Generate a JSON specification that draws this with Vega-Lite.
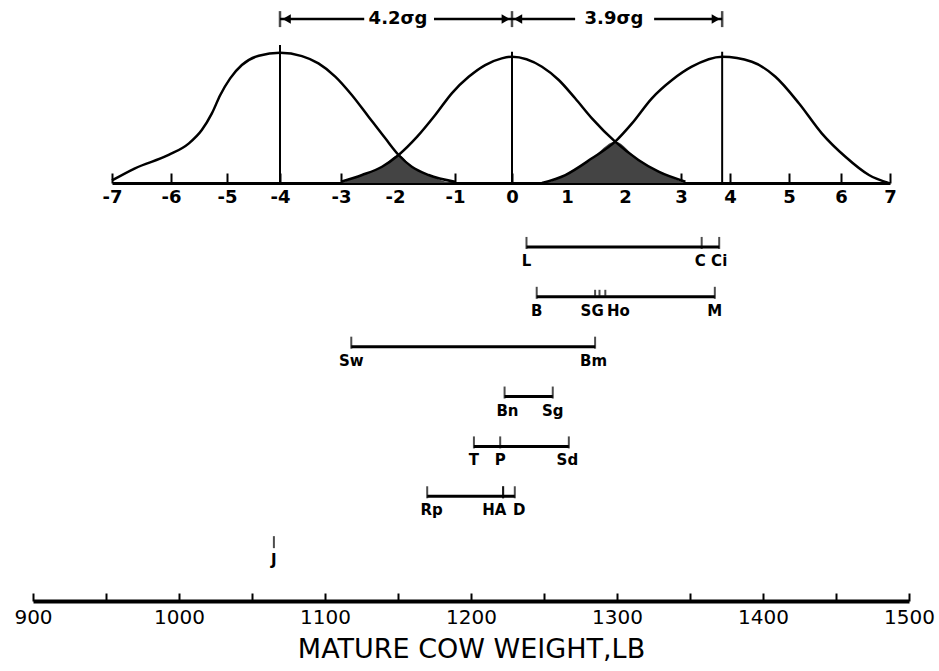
{
  "$schema": "https://vega.github.io/schema/vega-lite/v6.json",
  "background": "white",
  "padding": {"left": 13, "top": 9, "right": 5, "bottom": 5},
  "spacing": 16,
  "config": {"view": {"stroke": null}, "font": "DejaVu Sans"},
  "datasets": {
    "curves": [
      {"curve": "low", "sigma": -7.0, "height": 0.02},
      {"curve": "low", "sigma": -6.61, "height": 0.115},
      {"curve": "low", "sigma": -6.04, "height": 0.219},
      {"curve": "low", "sigma": -5.68, "height": 0.31},
      {"curve": "low", "sigma": -5.45, "height": 0.414},
      {"curve": "low", "sigma": -5.27, "height": 0.544},
      {"curve": "low", "sigma": -5.12, "height": 0.688},
      {"curve": "low", "sigma": -4.94, "height": 0.818},
      {"curve": "low", "sigma": -4.72, "height": 0.922},
      {"curve": "low", "sigma": -4.4, "height": 0.995},
      {"curve": "low", "sigma": -4.0, "height": 1.018},
      {"curve": "low", "sigma": -3.64, "height": 0.992},
      {"curve": "low", "sigma": -3.37, "height": 0.935},
      {"curve": "low", "sigma": -3.09, "height": 0.83},
      {"curve": "low", "sigma": -2.8, "height": 0.688},
      {"curve": "low", "sigma": -2.49, "height": 0.518},
      {"curve": "low", "sigma": -2.18, "height": 0.349},
      {"curve": "low", "sigma": -1.94, "height": 0.219},
      {"curve": "low", "sigma": -1.72, "height": 0.127},
      {"curve": "low", "sigma": -1.44, "height": 0.0625},
      {"curve": "low", "sigma": -1.0, "height": 0.01},
      {"curve": "mid", "sigma": -3.0, "height": 0.01},
      {"curve": "mid", "sigma": -2.61, "height": 0.0625},
      {"curve": "mid", "sigma": -2.24, "height": 0.127},
      {"curve": "mid", "sigma": -1.94, "height": 0.219},
      {"curve": "mid", "sigma": -1.63, "height": 0.362},
      {"curve": "mid", "sigma": -1.33, "height": 0.531},
      {"curve": "mid", "sigma": -1.05, "height": 0.703},
      {"curve": "mid", "sigma": -0.76, "height": 0.83},
      {"curve": "mid", "sigma": -0.47, "height": 0.922},
      {"curve": "mid", "sigma": -0.18, "height": 0.974},
      {"curve": "mid", "sigma": 0.0, "height": 0.987},
      {"curve": "mid", "sigma": 0.545, "height": 0.909},
      {"curve": "mid", "sigma": 0.85, "height": 0.805},
      {"curve": "mid", "sigma": 1.14, "height": 0.662},
      {"curve": "mid", "sigma": 1.43, "height": 0.505},
      {"curve": "mid", "sigma": 1.83, "height": 0.323},
      {"curve": "mid", "sigma": 2.24, "height": 0.18},
      {"curve": "mid", "sigma": 2.6, "height": 0.088},
      {"curve": "mid", "sigma": 3.09, "height": 0.01},
      {"curve": "high", "sigma": 0.545, "height": 0.0},
      {"curve": "high", "sigma": 0.97, "height": 0.0625},
      {"curve": "high", "sigma": 1.43, "height": 0.193},
      {"curve": "high", "sigma": 1.83, "height": 0.323},
      {"curve": "high", "sigma": 2.125, "height": 0.466},
      {"curve": "high", "sigma": 2.48, "height": 0.662},
      {"curve": "high", "sigma": 2.84, "height": 0.805},
      {"curve": "high", "sigma": 3.22, "height": 0.909},
      {"curve": "high", "sigma": 3.84, "height": 0.987},
      {"curve": "high", "sigma": 4.37, "height": 0.948},
      {"curve": "high", "sigma": 4.77, "height": 0.83},
      {"curve": "high", "sigma": 5.19, "height": 0.623},
      {"curve": "high", "sigma": 5.63, "height": 0.388},
      {"curve": "high", "sigma": 6.09, "height": 0.205},
      {"curve": "high", "sigma": 6.57, "height": 0.0625},
      {"curve": "high", "sigma": 6.97, "height": 0.0}
    ],
    "overlap": [
      {"zone": "left", "sigma": -3.0, "height": 0.0},
      {"zone": "left", "sigma": -2.61, "height": 0.0625},
      {"zone": "left", "sigma": -2.24, "height": 0.127},
      {"zone": "left", "sigma": -1.94, "height": 0.219},
      {"zone": "left", "sigma": -1.72, "height": 0.127},
      {"zone": "left", "sigma": -1.44, "height": 0.0625},
      {"zone": "left", "sigma": -1.0, "height": 0.0},
      {"zone": "right", "sigma": 0.545, "height": 0.0},
      {"zone": "right", "sigma": 0.97, "height": 0.0625},
      {"zone": "right", "sigma": 1.43, "height": 0.193},
      {"zone": "right", "sigma": 1.83, "height": 0.323},
      {"zone": "right", "sigma": 2.24, "height": 0.18},
      {"zone": "right", "sigma": 2.6, "height": 0.088},
      {"zone": "right", "sigma": 3.09, "height": 0.0}
    ],
    "peaks": [
      {"sigma": -4.0, "height": 1.078},
      {"sigma": 0.0, "height": 1.026},
      {"sigma": 3.84, "height": 1.026}
    ],
    "arrowLines": [
      {"sigma": -4.0, "sigma2": -2.57},
      {"sigma": -1.35, "sigma2": 0.0},
      {"sigma": 0.0, "sigma2": 1.14},
      {"sigma": 2.52, "sigma2": 3.84}
    ],
    "arrowHeads": [
      {"sigma": -3.89, "dir": "left"},
      {"sigma": -0.11, "dir": "right"},
      {"sigma": 0.11, "dir": "left"},
      {"sigma": 3.71, "dir": "right"}
    ],
    "arrowEnds": [
      {"sigma": -4.0},
      {"sigma": 0.0},
      {"sigma": 3.84}
    ],
    "arrowText": [
      {"sigma": -1.95, "text": "4.2σg"},
      {"sigma": 1.81, "text": "3.9σg"}
    ],
    "ranges": [
      {"row": 1, "low": 1238, "high": 1370},
      {"row": 2, "low": 1245, "high": 1367},
      {"row": 3, "low": 1118, "high": 1285},
      {"row": 4, "low": 1223, "high": 1256},
      {"row": 5, "low": 1202, "high": 1267},
      {"row": 6, "low": 1170, "high": 1230}
    ],
    "breeds": [
      {"row": 1, "breed": "L", "weight": 1238, "kind": "end"},
      {"row": 1, "breed": "C", "weight": 1358, "kind": "end"},
      {"row": 1, "breed": "Ci", "weight": 1370, "kind": "end"},
      {"row": 2, "breed": "B", "weight": 1245, "kind": "end"},
      {"row": 2, "breed": "S", "weight": 1285, "kind": "minor"},
      {"row": 2, "breed": "G", "weight": 1288, "kind": "minor"},
      {"row": 2, "breed": "Ho", "weight": 1292, "kind": "minor"},
      {"row": 2, "breed": "M", "weight": 1367, "kind": "end"},
      {"row": 3, "breed": "Sw", "weight": 1118, "kind": "end"},
      {"row": 3, "breed": "Bm", "weight": 1285, "kind": "end"},
      {"row": 4, "breed": "Bn", "weight": 1223, "kind": "end"},
      {"row": 4, "breed": "Sg", "weight": 1256, "kind": "end"},
      {"row": 5, "breed": "T", "weight": 1202, "kind": "end"},
      {"row": 5, "breed": "P", "weight": 1220, "kind": "end"},
      {"row": 5, "breed": "Sd", "weight": 1267, "kind": "end"},
      {"row": 6, "breed": "Rp", "weight": 1170, "kind": "end"},
      {"row": 6, "breed": "H", "weight": 1222, "kind": "end"},
      {"row": 6, "breed": "A", "weight": 1222, "kind": "end"},
      {"row": 6, "breed": "D", "weight": 1230, "kind": "end"},
      {"row": 7, "breed": "J", "weight": 1065, "kind": "end"}
    ],
    "labels": [
      {"row": 1, "text": "L", "weight": 1238},
      {"row": 1, "text": "C", "weight": 1357},
      {"row": 1, "text": "Ci", "weight": 1370},
      {"row": 2, "text": "B", "weight": 1245},
      {"row": 2, "text": "SG", "weight": 1283},
      {"row": 2, "text": "Ho", "weight": 1301},
      {"row": 2, "text": "M", "weight": 1367},
      {"row": 3, "text": "Sw", "weight": 1118},
      {"row": 3, "text": "Bm", "weight": 1284},
      {"row": 4, "text": "Bn", "weight": 1225},
      {"row": 4, "text": "Sg", "weight": 1256},
      {"row": 5, "text": "T", "weight": 1202},
      {"row": 5, "text": "P", "weight": 1220},
      {"row": 5, "text": "Sd", "weight": 1266},
      {"row": 6, "text": "Rp", "weight": 1173},
      {"row": 6, "text": "HA", "weight": 1216},
      {"row": 6, "text": "D", "weight": 1233},
      {"row": 7, "text": "J", "weight": 1065}
    ]
  },
  "vconcat": [
    {
      "width": 876,
      "height": 174,
      "encoding": {
        "x": {
          "field": "sigma",
          "type": "quantitative",
          "scale": {
            "domain": [-7, -6, -5, -4, -3, -2, -1, 0, 1, 2, 3, 4, 5, 6, 7],
            "range": [79, 138, 194, 247, 308, 362, 422, 479, 534, 592, 648, 697, 756, 808, 857],
            "nice": false,
            "zero": false
          },
          "axis": {
            "values": [-7, -6, -5, -4, -3, -2, -1, 0, 1, 2, 3, 4, 5, 6, 7],
            "labelExpr": "datum.value < 0 ? '-' + abs(datum.value) : '' + datum.value",
            "title": null,
            "grid": false,
            "labelFlush": false,
            "labelOverlap": false,
            "tickSize": -10,
            "tickWidth": 2,
            "tickColor": "black",
            "domainColor": "black",
            "domainWidth": 3,
            "labelFontSize": 18,
            "labelFontWeight": "bold",
            "labelColor": "black",
            "labelPadding": 15
          }
        }
      },
      "layer": [
        {
          "data": {"name": "overlap"},
          "mark": {"type": "area", "color": "#444444", "interpolate": "monotone"},
          "encoding": {
            "y": {"field": "height", "type": "quantitative", "scale": {"domain": [0, 1.36], "nice": false, "zero": false}, "axis": null},
            "detail": {"field": "zone", "type": "nominal"}
          }
        },
        {
          "data": {"name": "curves"},
          "mark": {"type": "line", "color": "black", "strokeWidth": 2.5, "interpolate": "monotone"},
          "encoding": {
            "y": {"field": "height", "type": "quantitative", "scale": {"domain": [0, 1.36], "nice": false, "zero": false}, "axis": null},
            "detail": {"field": "curve", "type": "nominal"}
          }
        },
        {
          "data": {"name": "peaks"},
          "mark": {"type": "rule", "color": "black", "strokeWidth": 2},
          "encoding": {
            "y": {"field": "height", "type": "quantitative", "scale": {"domain": [0, 1.36], "nice": false, "zero": false}, "axis": null},
            "y2": {"datum": 0}
          }
        },
        {
          "data": {"name": "arrowLines"},
          "mark": {"type": "rule", "color": "black", "strokeWidth": 2.5},
          "encoding": {
            "x2": {"field": "sigma2"},
            "y": {"datum": 1.281, "type": "quantitative", "axis": null}
          }
        },
        {
          "data": {"name": "arrowEnds"},
          "mark": {"type": "tick", "orient": "vertical", "color": "black", "thickness": 2.5, "size": 16},
          "encoding": {"y": {"datum": 1.281, "type": "quantitative", "axis": null}}
        },
        {
          "data": {"name": "arrowHeads"},
          "mark": {"type": "point", "filled": true, "color": "black", "opacity": 1, "size": 90},
          "encoding": {
            "y": {"datum": 1.281, "type": "quantitative", "axis": null},
            "shape": {
              "field": "dir",
              "type": "nominal",
              "scale": {"domain": ["left", "right"], "range": ["triangle-left", "triangle-right"]},
              "legend": null
            }
          }
        },
        {
          "data": {"name": "arrowText"},
          "mark": {"type": "text", "color": "black", "fontSize": 18, "fontWeight": "bold", "baseline": "middle", "align": "center"},
          "encoding": {
            "y": {"datum": 1.281, "type": "quantitative", "axis": null},
            "text": {"field": "text", "type": "nominal"}
          }
        }
      ]
    },
    {
      "width": 876,
      "height": 379,
      "encoding": {
        "x": {
          "field": "weight",
          "type": "quantitative",
          "scale": {"domain": [900, 1500], "nice": false, "zero": false},
          "axis": {
            "values": [900, 950, 1000, 1050, 1100, 1150, 1200, 1250, 1300, 1350, 1400, 1450, 1500],
            "format": "d",
            "labelExpr": "datum.value % 100 === 0 ? datum.label : ''",
            "title": "MATURE COW WEIGHT,LB",
            "titleFontSize": 27,
            "titleFontWeight": "normal",
            "titleColor": "black",
            "titlePadding": 9,
            "grid": false,
            "labelFlush": false,
            "labelOverlap": false,
            "tickSize": -8,
            "tickWidth": 2,
            "tickColor": "black",
            "domainColor": "black",
            "domainWidth": 4,
            "labelFontSize": 20,
            "labelColor": "black",
            "labelPadding": 14
          }
        },
        "y": {
          "field": "row",
          "type": "quantitative",
          "scale": {"domain": [0.5, 8.1], "reverse": true, "nice": false, "zero": false},
          "axis": null
        }
      },
      "layer": [
        {
          "data": {"name": "ranges"},
          "mark": {"type": "rule", "color": "black", "strokeWidth": 3},
          "encoding": {
            "x": {"field": "low", "type": "quantitative"},
            "x2": {"field": "high"}
          }
        },
        {
          "data": {"name": "breeds"},
          "mark": {"type": "tick", "orient": "vertical", "color": "black", "thickness": 2, "yOffset": -4},
          "encoding": {
            "size": {
              "field": "kind",
              "type": "nominal",
              "scale": {"domain": ["end", "minor"], "range": [12, 6]},
              "legend": null
            }
          }
        },
        {
          "data": {"name": "labels"},
          "mark": {"type": "text", "color": "black", "fontSize": 15, "fontWeight": "bold", "dy": 14, "baseline": "middle", "align": "center"},
          "encoding": {"text": {"field": "text", "type": "nominal"}}
        }
      ]
    }
  ]
}
